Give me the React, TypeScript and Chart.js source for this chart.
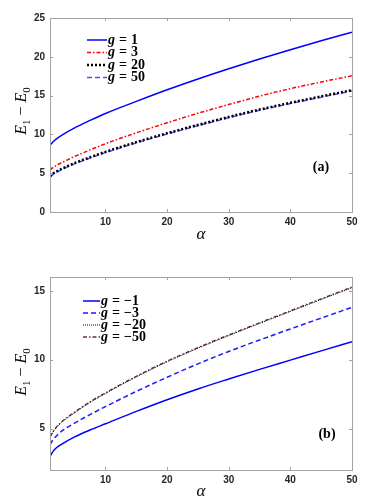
import React, { useEffect, useRef } from 'react';
import { Chart, registerables } from 'chart.js';
Chart.register(...registerables);

// ---------- data ----------
const alpha = [1, 1.5, 2, 3, 5, 7.5, 10, 15, 20, 25, 30, 35, 40, 45, 50];

// panel (a)
const gPlus1 = [8.6, 9.05, 9.4, 9.95, 10.85, 11.8, 12.7, 14.25, 15.75, 17.15, 18.47, 19.72, 20.92, 22.07, 23.17];
const gPlus3 = [5.4, 5.75, 6.0, 6.4, 7.15, 8.0, 8.8, 10.2, 11.5, 12.72, 13.85, 14.93, 15.9, 16.75, 17.55];
const gPlus20 = [4.6, 4.95, 5.2, 5.6, 6.3, 7.05, 7.75, 9.0, 10.15, 11.22, 12.25, 13.2, 14.07, 14.9, 15.7];
const gPlus50 = [4.5, 4.85, 5.1, 5.5, 6.2, 6.95, 7.65, 8.9, 10.05, 11.12, 12.15, 13.1, 13.97, 14.8, 15.6];

// panel (b)
const gMinus1 = [3.0, 3.35, 3.6, 3.9, 4.4, 4.9, 5.35, 6.25, 7.1, 7.88, 8.6, 9.3, 9.97, 10.64, 11.3];
const gMinus3 = [3.85, 4.2, 4.45, 4.85, 5.4, 6.02, 6.6, 7.7, 8.73, 9.7, 10.6, 11.43, 12.23, 13.02, 13.8];
const gMinus20 = [4.35, 4.75, 5.05, 5.5, 6.15, 6.9, 7.55, 8.75, 9.85, 10.83, 11.75, 12.63, 13.5, 14.37, 15.22];
const gMinus50 = [4.4, 4.8, 5.1, 5.55, 6.2, 6.95, 7.6, 8.8, 9.9, 10.88, 11.8, 12.68, 13.55, 14.42, 15.28];

const xTicks = [10, 20, 30, 40, 50];
const yTicksA = [0, 5, 10, 15, 20, 25];
const yTicksB = [5, 10, 15];
const legendA = ['1', '3', '20', '50'];
const legendB = ['\u22121', '\u22123', '\u221220', '\u221250'];

type Series = { values: number[]; color: string; dash: number[]; width: number };

const seriesA: Series[] = [
  { values: gPlus1, color: '#0000ff', dash: [], width: 1.5 },
  { values: gPlus3, color: '#ff0000', dash: [4, 2, 1.5, 2], width: 1.5 },
  { values: gPlus20, color: '#000000', dash: [2, 2], width: 2.5 },
  { values: gPlus50, color: '#4d4dff', dash: [5, 3], width: 1.5 },
];
const seriesB: Series[] = [
  { values: gMinus1, color: '#0000ff', dash: [], width: 1.5 },
  { values: gMinus3, color: '#1a1aff', dash: [5, 3], width: 1.5 },
  { values: gMinus20, color: '#000000', dash: [1, 1], width: 1 },
  { values: gMinus50, color: '#6b3535', dash: [4, 2, 1.5, 2], width: 1.3 },
];

type PanelCfg = {
  series: Series[];
  legend: string[];
  yMin: number;
  yMax: number;
  yTicks: number[];
  padTop: number;
  xAxisH: number;
  yLabelPos: [number, number];
  xLabelY: number;
  legendX: number;
  legendY: number;
  legendDy: number;
  legendLineW: number;
  panel: string;
  panelPos: [number, number];
};

const FRAME = '#a3a3a3';

function makeChart(canvas: HTMLCanvasElement, cfg: PanelCfg) {
  const overlay = {
    id: 'overlay',
    afterDraw(chart: any) {
      const ctx = chart.ctx as CanvasRenderingContext2D;
      const a = chart.chartArea;
      const xs = chart.scales.x;
      const ys = chart.scales.y;
      ctx.save();
      // frame
      ctx.strokeStyle = FRAME;
      ctx.lineWidth = 1;
      ctx.setLineDash([]);
      ctx.strokeRect(Math.round(a.left) + 0.5, Math.round(a.top) + 0.5, Math.round(a.right - a.left), Math.round(a.bottom - a.top));
      const tl = 3;
      ctx.beginPath();
      xTicks.forEach((v) => {
        const px = Math.round(xs.getPixelForValue(v)) + 0.5;
        ctx.moveTo(px, a.bottom);
        ctx.lineTo(px, a.bottom - tl);
        ctx.moveTo(px, a.top);
        ctx.lineTo(px, a.top + tl);
      });
      cfg.yTicks.forEach((v) => {
        const py = Math.round(ys.getPixelForValue(v)) + 0.5;
        ctx.moveTo(a.left, py);
        ctx.lineTo(a.left + tl, py);
        ctx.moveTo(a.right, py);
        ctx.lineTo(a.right - tl, py);
      });
      ctx.stroke();

      // legend
      cfg.series.forEach((s, i) => {
        const y = cfg.legendY + i * cfg.legendDy;
        ctx.strokeStyle = s.color;
        ctx.lineWidth = s.width;
        ctx.setLineDash(s.dash);
        ctx.beginPath();
        ctx.moveTo(cfg.legendX, y);
        ctx.lineTo(cfg.legendX + cfg.legendLineW, y);
        ctx.stroke();
        ctx.setLineDash([]);
        ctx.fillStyle = '#000';
        ctx.textBaseline = 'middle';
        ctx.textAlign = 'left';
        let cx = cfg.legendX + cfg.legendLineW + 1;
        ctx.font = 'italic bold 14px "Liberation Serif"';
        ctx.fillText('g', cx, y);
        cx += ctx.measureText('g').width + 4;
        ctx.font = 'bold 14px "Liberation Serif"';
        ctx.fillText('=', cx, y);
        cx += ctx.measureText('=').width + 4;
        ctx.fillText(cfg.legend[i], cx, y);
      });

      // panel label
      ctx.fillStyle = '#000';
      ctx.font = 'bold 14px "Liberation Serif"';
      ctx.textAlign = 'center';
      ctx.textBaseline = 'middle';
      ctx.fillText(cfg.panel, cfg.panelPos[0], cfg.panelPos[1]);

      // x label
      ctx.font = 'italic 17px "Liberation Serif"';
      ctx.fillText('\u03b1', (a.left + a.right) / 2, cfg.xLabelY);

      // y label E_1 - E_0
      const parts = [
        { t: 'E', f: 'italic 16px "Liberation Serif"', dy: 0 },
        { t: '1', f: '11px "Liberation Serif"', dy: 4 },
        { t: ' \u2212 ', f: '16px "Liberation Serif"', dy: 0 },
        { t: 'E', f: 'italic 16px "Liberation Serif"', dy: 0 },
        { t: '0', f: '11px "Liberation Serif"', dy: 4 },
      ];
      let total = 0;
      const widths = parts.map((p) => {
        ctx.font = p.f;
        const w = ctx.measureText(p.t).width;
        total += w;
        return w;
      });
      ctx.translate(cfg.yLabelPos[0], cfg.yLabelPos[1]);
      ctx.rotate(-Math.PI / 2);
      ctx.textAlign = 'left';
      ctx.textBaseline = 'alphabetic';
      let px = -total / 2;
      parts.forEach((p, i) => {
        ctx.font = p.f;
        ctx.fillText(p.t, px, 5 + p.dy);
        px += widths[i];
      });
      ctx.restore();
    },
  };

  return new Chart(canvas, {
    type: 'line',
    data: {
      labels: alpha,
      datasets: cfg.series.map((s, i) => ({
        label: cfg.legend[i],
        data: alpha.map((x, j) => ({ x, y: s.values[j] })),
        borderColor: s.color,
        borderWidth: s.width,
        borderDash: s.dash,
        pointRadius: 0,
        fill: false,
        cubicInterpolationMode: 'monotone' as const,
      })),
    },
    options: {
      animation: false,
      responsive: false,
      maintainAspectRatio: false,
      devicePixelRatio: 1,
      layout: { padding: { left: 0, right: 38, top: cfg.padTop, bottom: 0 } },
      plugins: { legend: { display: false }, tooltip: { enabled: false }, title: { display: false } },
      scales: {
        x: {
          type: 'linear',
          min: 1,
          max: 50,
          grid: { display: false, drawTicks: false },
          border: { display: false },
          afterBuildTicks: (s: any) => {
            s.ticks = xTicks.map((v) => ({ value: v }));
          },
          afterFit: (s: any) => {
            s.height = cfg.xAxisH;
          },
          ticks: {
            padding: 4,
            maxRotation: 0,
            color: '#262626',
            font: { family: '"Liberation Sans"', weight: 'bold', size: 10 },
          },
        },
        y: {
          type: 'linear',
          min: cfg.yMin,
          max: cfg.yMax,
          grid: { display: false, drawTicks: false },
          border: { display: false },
          afterBuildTicks: (s: any) => {
            s.ticks = cfg.yTicks.map((v) => ({ value: v }));
          },
          afterFit: (s: any) => {
            s.width = 50;
          },
          ticks: {
            padding: 5,
            color: '#262626',
            font: { family: '"Liberation Sans"', weight: 'bold', size: 10 },
          },
        },
      },
    } as any,
    plugins: [overlay],
  });
}

const cfgA: PanelCfg = {
  series: seriesA,
  legend: legendA,
  yMin: 0,
  yMax: 25,
  yTicks: yTicksA,
  padTop: 18,
  xAxisH: 38,
  yLabelPos: [21, 111],
  xLabelY: 235,
  legendX: 87,
  legendY: 40,
  legendDy: 12.5,
  legendLineW: 20,
  panel: '(a)',
  panelPos: [321, 167],
};

const cfgB: PanelCfg = {
  series: seriesB,
  legend: legendB,
  yMin: 2,
  yMax: 16,
  yTicks: yTicksB,
  padTop: 27,
  xAxisH: 31,
  yLabelPos: [21, 122],
  xLabelY: 242,
  legendX: 83,
  legendY: 51,
  legendDy: 12,
  legendLineW: 17,
  panel: '(b)',
  panelPos: [327, 184],
};

function Panel({ cfg, height }: { cfg: PanelCfg; height: number }) {
  const ref = useRef<HTMLCanvasElement | null>(null);
  useEffect(() => {
    if (!ref.current) return;
    const c = makeChart(ref.current, cfg);
    return () => c.destroy();
  }, [cfg]);
  return (
    <div style={{ width: 390, height, position: 'relative' }}>
      <canvas ref={ref} width={390} height={height} style={{ display: 'block', width: 390, height }} />
    </div>
  );
}

export default function App() {
  return (
    <div style={{ position: 'fixed', left: 0, top: 0, width: 390, height: 501, background: '#fff' }}>
      <Panel cfg={cfgA} height={250} />
      <Panel cfg={cfgB} height={251} />
    </div>
  );
}
